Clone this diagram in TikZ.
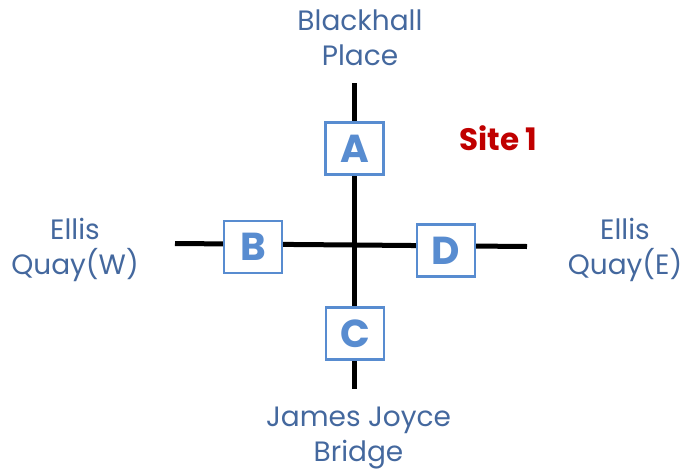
\documentclass[tikz,border=0pt]{standalone}
\usepackage{fontspec}
\setmainfont{Poppins}
\definecolor{labelblue}{RGB}{68,104,158}
\definecolor{boxblue}{RGB}{88,140,208}
\definecolor{sitered}{RGB}{192,0,0}
\begin{document}
\begin{tikzpicture}[x=1pt,y=-1pt,
  road/.style={line width=5pt,black},
  gate/.style={draw=boxblue,line width=2.5pt,fill=white,minimum width=58pt,minimum height=52pt,inner sep=0pt,text=boxblue,font=\fontsize{39}{42}\selectfont\bfseries},
  place/.style={text=labelblue,align=center,font=\fontsize{28}{35}\selectfont},
  sitelabel/.style={text=sitered,font=\fontsize{31}{34}\selectfont\bfseries}]
\useasboundingbox (0,0) rectangle (686,472);
\coordinate (N) at (354,83);
\coordinate (S) at (354,389);
\coordinate (W) at (175,243.5);
\coordinate (E) at (527,246.5);
\coordinate (X) at (354,245);
\draw[road] (N) -- (S);
\draw[road] (W) -- (X) -- (E);
\node[gate] (A) at (354.5,148.5) {A};
\node[gate] (B) at (253,247) {B};
\node[gate] (C) at (355,333.5) {C};
\node[gate] (D) at (446,250.5) {D};
\node[place] (north) at (360,38) {Blackhall\\Place};
\node[place] (west) at (75,250) {Ellis\\Quay(W)};
\node[place] (east) at (625,250) {Ellis\\Quay(E)};
\node[place] (south) at (358.5,438.5) {James Joyce\\Bridge};
\node[sitelabel] (site) at (498.5,138) {Site 1};
\end{tikzpicture}
\end{document}
